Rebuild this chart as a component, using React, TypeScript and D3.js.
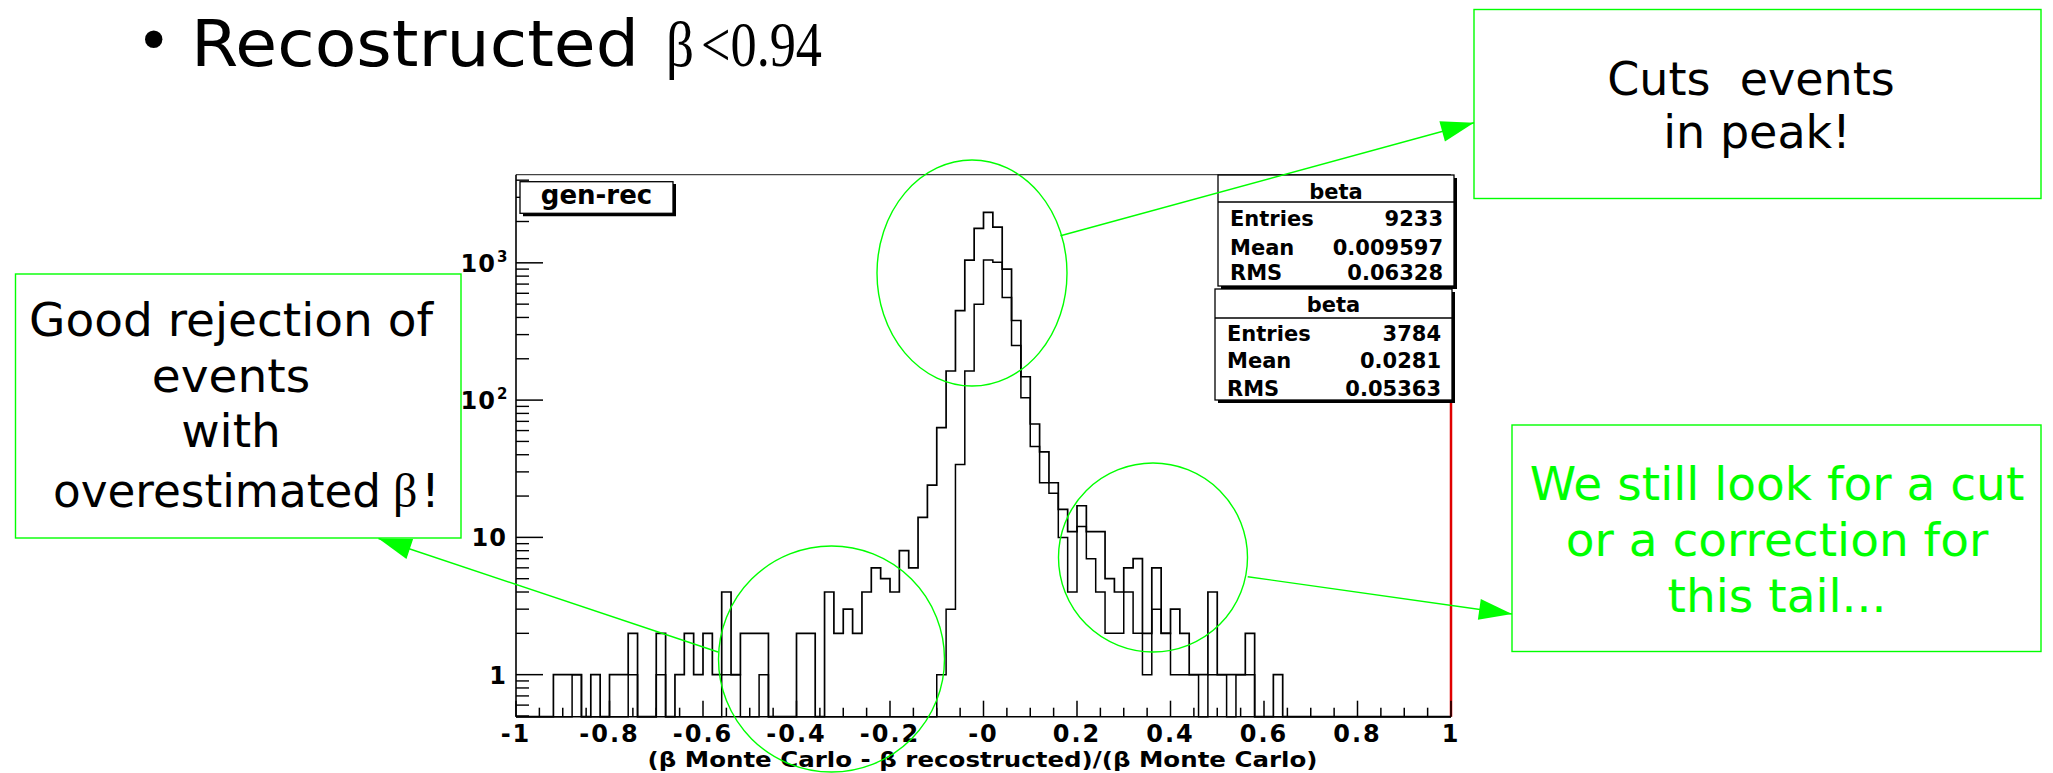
import React from 'react';
import * as d3 from 'd3';

// ---------- DATA ----------
const binRange = [-1, 1];
const binCount = 100;
// histogram of all events (Entries 9233)
const countsAll = [
  0, 0, 0, 0, 1, 1, 1, 0, 1, 0,
  1, 1, 2, 0, 0, 2, 0, 1, 2, 1,
  2, 1, 4, 1, 2, 2, 2, 0, 0, 0,
  2, 2, 0, 4, 2, 3, 2, 4, 6, 5,
  4, 8, 6, 14, 24, 63, 163, 448, 1047, 1783,
  2333, 1820, 900, 380, 148, 67, 42, 25, 16, 11,
  17, 11, 11, 5, 4, 6, 7, 2, 6, 2,
  3, 2, 1, 1, 4, 1, 1, 1, 2, 0,
  0, 1, 0, 0, 0, 0, 0, 0, 0, 0,
  0, 0, 0, 0, 0, 0, 0, 0, 0, 0,
];
// histogram after the cut (Entries 3784)
const countsCut = [
  0, 0, 0, 0, 0, 0, 1, 0, 0, 0,
  0, 0, 1, 0, 0, 1, 0, 0, 0, 0,
  0, 0, 1, 1, 0, 0, 1, 0, 0, 0,
  0, 0, 0, 0, 0, 0, 0, 0, 0, 0,
  0, 0, 0, 0, 0, 1, 3, 34, 163, 500,
  1047, 1010, 560, 250, 104, 46, 25, 21, 10, 4,
  12, 7, 4, 2, 2, 4, 2, 1, 3, 2,
  1, 1, 1, 0, 1, 1, 0, 1, 1, 0,
  0, 0, 0, 0, 0, 0, 0, 0, 0, 0,
  0, 0, 0, 0, 0, 0, 0, 0, 0, 0,
];
const xTickValues = [-1, -0.8, -0.6, -0.4, -0.2, 0, 0.2, 0.4, 0.6, 0.8, 1];
const xTickLabels = ['-1', '-0.8', '-0.6', '-0.4', '-0.2', '-0', '0.2', '0.4', '0.6', '0.8', '1'];
const yTickValues = [1, 10, 100, 1000];
const yTickBases = ['1', '10', '10', '10'];
const yTickExps = ['', '', '2', '3'];
const yDomain = [0.494, 4385];
const statsTitle = 'beta';
const statsAllLabels = ['Entries', 'Mean', 'RMS'];
const statsAllValues = ['9233', '0.009597', '0.06328'];
const statsCutLabels = ['Entries', 'Mean', 'RMS'];
const statsCutValues = ['3784', '0.0281', '0.05363'];
const legendText = 'gen-rec';
const xAxisTitle = '(β Monte Carlo - β recostructed)/(β Monte Carlo)';
const noteCuts = ['Cuts\u00a0\u00a0events', 'in peak!'];
const noteGood = ['Good rejection of', 'events', 'with', 'overestimated', 'β', '!'];
const noteTail = ['We still look for a cut', 'or a correction for', 'this tail...'];

// ---------- LAYOUT ----------
const W = 2053, H = 773;
const F = { left: 516, right: 1451, top: 174.7, bottom: 716.7 };
const GREEN = '#00ff00';
const ROOTFONT = '"DejaVu Sans", sans-serif';
const SERIF = '"Liberation Serif", serif';

const x = d3.scaleLinear().domain(binRange).range([F.left, F.right]);
const y = d3.scaleLog().domain(yDomain).range([F.bottom, F.top]);
const binW = (binRange[1] - binRange[0]) / binCount;

function histPath(counts: number[]) {
  const pts: [number, number][] = [[x(binRange[0]), F.bottom]];
  counts.forEach((c, i) => {
    const x0 = binRange[0] + i * binW;
    const yv = y(Math.max(c, yDomain[0]));
    pts.push([x(x0), yv], [x(x0 + binW), yv]);
  });
  pts.push([x(binRange[1]), F.bottom]);
  return d3.line()(pts) as string;
}

function arrowHead(x1: number, y1: number, x2: number, y2: number, len = 33, hw = 10.5) {
  const dx = x2 - x1, dy = y2 - y1;
  const L = Math.hypot(dx, dy);
  const ux = dx / L, uy = dy / L;
  const bx = x2 - ux * len, by = y2 - uy * len;
  const px = -uy * hw, py = ux * hw;
  return `M${x2},${y2} L${bx + px},${by + py} L${bx - px},${by - py} Z`;
}

function StatBox({ bx, by, bw, bh, divY, titleY, rowYs, labels, values, lx, rx }: any) {
  return (
    <g fontFamily={ROOTFONT} fontWeight="bold" fontSize={21} fill="#000">
      <line x1={bx + 3} x2={bx + bw + 2} y1={by + bh + 1.5} y2={by + bh + 1.5} stroke="#000" strokeWidth={3} />
      <line x1={bx + bw + 1.5} x2={bx + bw + 1.5} y1={by + 3} y2={by + bh + 3} stroke="#000" strokeWidth={3} />
      <rect x={bx} y={by} width={bw} height={bh} fill="#fff" stroke="#000" strokeWidth={1.3} />
      <line x1={bx} x2={bx + bw} y1={divY} y2={divY} stroke="#000" strokeWidth={1.3} />
      <text x={bx + bw / 2} y={titleY} textAnchor="middle">{statsTitle}</text>
      {labels.map((l: string, i: number) => (
        <g key={i}>
          <text x={lx} y={rowYs[i]}>{l}</text>
          <text x={rx} y={rowYs[i]} textAnchor="end">{values[i]}</text>
        </g>
      ))}
    </g>
  );
}

export default function App() {
  const xMinor = d3.range(-1, 1.0001, 0.05).map((v) => +v.toFixed(2));
  const yMinor: number[] = [];
  [0.1, 1, 10, 100, 1000].forEach((d) => {
    for (let m = 2; m <= 9; m++) {
      const v = d * m;
      if (v > yDomain[0] && v < yDomain[1]) yMinor.push(v);
    }
  });

  const arrows = [
    { x1: 1060.5, y1: 235.7, x2: 1474, y2: 122.7 },
    { x1: 718, y1: 652, x2: 378.5, y2: 538.5 },
    { x1: 1247.7, y1: 576.7, x2: 1512, y2: 614 },
  ];

  return (
    <svg width={W} height={H} style={{ position: 'absolute', left: 0, top: 0, background: '#fff' }}>
      <rect x={0} y={0} width={W} height={H} fill="#fff" />

      {/* Slide title */}
      <g fill="#000">
        <text x={136} y={62} fontFamily={ROOTFONT} fontSize={60}>•</text>
        <text x={191} y={66} fontFamily={ROOTFONT} fontSize={64} textLength={448} lengthAdjust="spacingAndGlyphs">Recostructed</text>
        <text x={666} y={66} fontFamily={SERIF} fontSize={64} textLength={28} lengthAdjust="spacingAndGlyphs">β</text>
        <text x={701} y={66} fontFamily={SERIF} fontSize={64} textLength={121} lengthAdjust="spacingAndGlyphs">&lt;0.94</text>
      </g>

      {/* Frame */}
      <line x1={F.left} x2={F.right} y1={F.top} y2={F.top} stroke="#444" strokeWidth={1.2} />
      <line x1={F.right} x2={F.right} y1={400} y2={F.bottom} stroke="#e00000" strokeWidth={2.5} />

      {/* Histograms */}
      <path d={histPath(countsAll)} fill="none" stroke="#000" strokeWidth={1.7} />
      <path d={histPath(countsCut)} fill="none" stroke="#000" strokeWidth={1.5} />

      {/* Axes */}
      <line x1={F.left} x2={F.right} y1={F.bottom} y2={F.bottom} stroke="#000" strokeWidth={1.6} />
      <line x1={F.left} x2={F.left} y1={F.top} y2={F.bottom} stroke="#000" strokeWidth={1.6} />
      {xMinor.map((v, i) => {
        const major = Math.abs(Math.round(v * 5) - v * 5) < 1e-6;
        return <line key={'xm' + i} x1={x(v)} x2={x(v)} y1={F.bottom} y2={F.bottom - (major ? 16 : 9)} stroke="#000" strokeWidth={1.5} />;
      })}
      {yMinor.map((v, i) => (
        <line key={'ym' + i} x1={F.left} x2={F.left + 13} y1={y(v)} y2={y(v)} stroke="#000" strokeWidth={1.4} />
      ))}
      {yTickValues.map((v, i) => (
        <line key={'yM' + i} x1={F.left} x2={F.left + 27} y1={y(v)} y2={y(v)} stroke="#000" strokeWidth={1.5} />
      ))}
      <g fontFamily={ROOTFONT} fontWeight="bold" fontSize={24} fill="#000">
        {xTickValues.map((v, i) => (
          <text key={'xl' + i} x={x(v)} y={742} textAnchor="middle" letterSpacing={2}>{xTickLabels[i]}</text>
        ))}
        {yTickValues.map((v, i) => (
          yTickExps[i] ? (
            <g key={'yl' + i}>
              <text x={496} y={y(v) + 9} textAnchor="end" letterSpacing={1}>{yTickBases[i]}</text>
              <text x={497} y={y(v) - 1} fontSize={15}>{yTickExps[i]}</text>
            </g>
          ) : (
            <text key={'yl' + i} x={507} y={y(v) + 9} textAnchor="end" letterSpacing={1}>{yTickBases[i]}</text>
          )
        ))}
        <text x={(F.left + F.right) / 2 - 1} y={767} textAnchor="middle" fontSize={21} textLength={670} lengthAdjust="spacingAndGlyphs">{xAxisTitle}</text>
      </g>

      {/* Legend box */}
      <g>
        <line x1={523} x2={676} y1={214.8} y2={214.8} stroke="#000" strokeWidth={3} />
        <line x1={674.5} x2={674.5} y1={184} y2={216} stroke="#000" strokeWidth={3} />
        <rect x={520} y={181.7} width={153} height={31.6} fill="#fff" stroke="#000" strokeWidth={1.3} />
        <text x={596.5} y={203.5} textAnchor="middle" fontFamily={ROOTFONT} fontWeight="bold" fontSize={26}>{legendText}</text>
      </g>

      {/* Stat boxes */}
      <StatBox bx={1218} by={175} bw={236} bh={111} divY={202} titleY={199} rowYs={[226, 255, 280]}
        labels={statsAllLabels} values={statsAllValues} lx={1230} rx={1443} />
      <StatBox bx={1215} by={289} bw={237} bh={111} divY={318} titleY={312} rowYs={[341, 368, 396]}
        labels={statsCutLabels} values={statsCutValues} lx={1227} rx={1441} />

      {/* Annotation ellipses */}
      <g fill="none" stroke={GREEN} strokeWidth={1.4}>
        <ellipse cx={972} cy={273} rx={95} ry={113} />
        <ellipse cx={831.5} cy={659} rx={113} ry={113} />
        <ellipse cx={1153} cy={557.5} rx={94.5} ry={94.5} />
      </g>
      {arrows.map((a, i) => (
        <g key={'ar' + i}>
          <line x1={a.x1} y1={a.y1} x2={a.x2} y2={a.y2} stroke={GREEN} strokeWidth={1.4} />
          <path d={arrowHead(a.x1, a.y1, a.x2, a.y2)} fill={GREEN} />
        </g>
      ))}

      {/* Annotation boxes */}
      <rect x={1474} y={9.5} width={567} height={189} fill="#fff" stroke={GREEN} strokeWidth={1.4} />
      <g fontFamily={ROOTFONT} fontSize={46} fill="#000" textAnchor="middle">
        <text x={1751} y={95}>{noteCuts[0]}</text>
        <text x={1757} y={148}>{noteCuts[1]}</text>
      </g>

      <rect x={15.5} y={274} width={445.5} height={264} fill="#fff" stroke={GREEN} strokeWidth={1.4} />
      <g fontFamily={ROOTFONT} fontSize={47} fill="#000">
        <text x={231} y={336} textAnchor="middle">{noteGood[0]}</text>
        <text x={231} y={392} textAnchor="middle">{noteGood[1]}</text>
        <text x={231} y={447} textAnchor="middle">{noteGood[2]}</text>
        <text x={53} y={506.5} textLength={328} lengthAdjust="spacingAndGlyphs">{noteGood[3]}</text>
        <text x={393} y={506.5} fontFamily={SERIF} fontSize={48}>{noteGood[4]}</text>
        <text x={421} y={506.5}>{noteGood[5]}</text>
      </g>

      <rect x={1512} y={425} width={529} height={226.5} fill="#fff" stroke={GREEN} strokeWidth={1.4} />
      <g fontFamily={ROOTFONT} fontSize={47} fill={GREEN} textAnchor="middle">
        <text x={1777} y={500}>{noteTail[0]}</text>
        <text x={1777} y={555.5}>{noteTail[1]}</text>
        <text x={1777} y={611.5}>{noteTail[2]}</text>
      </g>
    </svg>
  );
}
